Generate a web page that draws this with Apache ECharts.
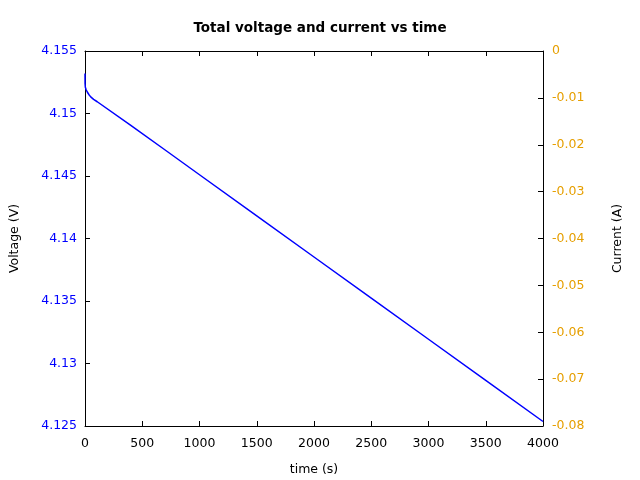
<!DOCTYPE html>
<html>
<head>
<meta charset="utf-8">
<script src="https://cdn.jsdelivr.net/npm/echarts@6/dist/echarts.min.js"></script>
<style>html,body{margin:0;padding:0;background:#fff}#c{width:640px;height:480px}</style>
</head>
<body>
<div id="c"></div>
<script>
var timeS = [0, 0.5, 3, 10, 20, 35, 50, 75, 107, 400, 700, 1000, 1500, 2000, 2500, 3000, 3500, 4000];
var voltageV = [4.1532, 4.1524, 4.1521, 4.1519, 4.15172, 4.1515, 4.15133, 4.15113, 4.15094, 4.14905, 4.14708, 4.14510, 4.14181, 4.13852, 4.13523, 4.13194, 4.12865, 4.12536];

var chart = echarts.init(document.getElementById('c'));
var font = 'DejaVu Sans';
var pts = timeS.map(function (t, i) { return [t, voltageV[i]]; });
var axisLine = {show: true, onZero: false, lineStyle: {color: '#000', width: 1}};
var tick = {show: true, inside: true, length: 5, lineStyle: {color: '#000'}};
chart.setOption({
  animation: false,
  backgroundColor: '#fff',
  title: {
    text: 'Total voltage and current vs time',
    left: 'center', top: 16,
    textStyle: {fontFamily: font, fontSize: 13.5, fontWeight: 'bold', color: '#000'}
  },
  grid: {left: 85, right: 97, top: 51, bottom: 54, containLabel: false, outerBoundsMode: 'none'},
  xAxis: [{
    type: 'value', min: 0, max: 4000, interval: 500, position: 'bottom',
    name: 'time (s)', nameLocation: 'middle', nameGap: 37,
    nameTextStyle: {fontFamily: font, fontSize: 12.5, color: '#000'},
    axisLine: axisLine, axisTick: tick,
    axisLabel: {fontFamily: font, fontSize: 12.5, color: '#000', margin: 11,
      formatter: function (v) { return String(v); }},
    splitLine: {show: false}
  }, {
    type: 'value', min: 0, max: 4000, interval: 500, position: 'top',
    axisLine: axisLine, axisTick: tick,
    axisLabel: {show: false},
    splitLine: {show: false}
  }],
  yAxis: [{
    type: 'value', min: 4.125, max: 4.155, interval: 0.005, position: 'left',
    name: 'Voltage (V)', nameLocation: 'middle', nameGap: 64, nameRotate: 90,
    nameTextStyle: {fontFamily: font, fontSize: 12.5, color: '#000'},
    axisLine: axisLine, axisTick: tick,
    axisLabel: {fontFamily: font, fontSize: 12.5, color: '#0000ff', margin: 8,
      formatter: function (v) { return String(+v.toFixed(3)); }},
    splitLine: {show: false}
  }, {
    type: 'value', min: -0.08, max: 0, interval: 0.01, position: 'right',
    name: 'Current (A)', nameLocation: 'middle', nameGap: 68, nameRotate: 90,
    nameTextStyle: {fontFamily: font, fontSize: 12.5, color: '#000'},
    axisLine: axisLine, axisTick: tick,
    axisLabel: {fontFamily: font, fontSize: 12.5, color: '#e69f00', margin: 9,
      formatter: function (v) { return String(+v.toFixed(2)); }},
    splitLine: {show: false}
  }],
  series: [{
    type: 'line', xAxisIndex: 0, yAxisIndex: 0, data: pts,
    showSymbol: false, smooth: false,
    lineStyle: {color: '#0000ff', width: 1.5}
  }]
});
</script>
</body>
</html>
